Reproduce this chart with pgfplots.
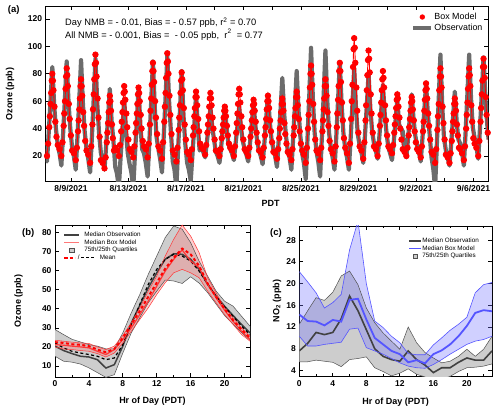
\documentclass[border=0pt]{standalone}
\usepackage{pgfplots}
\pgfplotsset{compat=1.18}
\usepackage{pgfplotstable}
\usepgfplotslibrary{fillbetween}
\usepackage{fontspec}
\setmainfont{Liberation Sans}
\definecolor{obsgray}{RGB}{108,108,108}
\definecolor{bandgray}{RGB}{205,205,205}
\definecolor{edgegray}{RGB}{80,80,80}
\definecolor{medgray}{RGB}{65,65,65}
\definecolor{mred}{RGB}{255,55,55}
\definecolor{bandred}{RGB}{255,120,120}
\definecolor{mblue}{RGB}{85,85,255}
\definecolor{bandblue}{RGB}{120,120,255}

\pgfplotstableread{
h omed omean olo ohi mmed mmean mlo mhi
0 20.4 22.1 15.1 29.1 21.2 22.5 20.0 23.5
1 18.1 19.5 12.5 26.5 20.9 22.1 18.9 23.0
2 16.5 17.7 12.0 24.0 20.4 21.4 18.6 22.5
3 15.1 16.8 11.0 22.6 20.0 21.1 18.1 22.1
4 14.7 16.0 9.0 21.2 19.5 20.4 17.7 21.8
5 13.3 15.1 6.5 20.4 17.7 18.6 16.5 20.0
6 8.9 13.3 4.0 19.0 16.0 17.2 14.7 18.6
7 10.7 14.2 5.4 19.0 18.6 18.9 16.8 20.4
8 20.4 21.2 16.8 27.4 23.9 24.7 22.1 26.0
9 32.6 31.8 27.4 37.9 30.0 31.8 28.2 32.6
10 41.8 42.3 35.3 47.5 37.0 38.8 34.4 40.5
11 51.0 52.8 43.2 58.1 44.0 46.3 40.5 49.3
12 58.9 60.7 49.3 67.7 51.9 53.7 47.5 57.2
13 66.0 66.0 55.1 77.4 59.8 61.1 53.7 67.7
14 68.9 68.6 54.6 83.5 66.0 66.8 58.9 76.5
15 68.6 67.7 53.3 81.8 70.9 71.6 60.7 84.0
16 66.0 65.1 56.8 74.7 65.1 68.6 58.9 78.2
17 60.7 59.8 53.5 65.0 61.6 62.5 56.3 69.5
18 52.8 53.0 48.5 57.2 52.8 53.3 49.3 56.3
19 46.7 46.5 42.5 49.3 45.8 46.3 43.2 48.4
20 41.4 41.0 36.5 44.0 39.3 40.0 37.0 40.5
21 36.5 36.0 32.0 41.4 33.5 34.0 31.8 35.3
22 31.8 31.0 27.5 36.1 28.2 29.1 26.5 30.0
23 27.4 26.5 23.5 30.9 23.9 24.7 23.0 25.6
}\tabB

\pgfplotstableread{
h omed olo ohi mmed mlo mhi
0 7.6 5.6 12.5 14.3 10.3 22.2
1 9.0 5.6 15.0 13.1 8.5 20.3
2 11.0 5.9 17.4 13.0 8.5 18.3
3 10.6 5.7 16.9 12.3 8.8 15.5
4 11.0 5.5 18.4 13.3 9.0 16.5
5 13.5 4.7 21.4 13.0 9.2 18.0
6 17.7 6.0 22.3 17.0 11.6 26.2
7 15.0 6.2 19.8 17.2 11.8 31.5
8 11.5 6.5 15.5 13.4 8.2 20.0
9 8.0 4.5 12.8 10.0 7.6 13.1
10 6.6 3.8 10.9 8.8 7.0 11.9
11 6.0 3.0 9.4 7.6 6.2 10.3
12 5.7 3.5 7.9 7.0 5.4 9.1
13 7.6 4.3 12.0 5.5 4.8 7.1
14 6.0 3.3 9.1 5.9 4.5 6.9
15 5.0 2.8 7.3 5.3 4.4 6.9
16 3.6 2.2 6.3 7.0 5.1 8.7
17 4.5 2.4 5.4 7.7 6.0 10.0
18 4.5 2.9 5.7 8.8 7.0 11.4
19 5.5 3.8 6.6 10.3 7.9 12.5
20 6.3 4.5 7.9 12.2 8.8 13.8
21 5.9 4.6 6.6 14.6 9.4 18.3
22 5.9 4.8 7.9 15.1 9.7 19.8
23 7.6 5.2 10.3 14.9 10.3 20.2
}\tabC

\begin{document}
\begin{tikzpicture}
\pgfplotsset{
  every axis/.append style={
    scale only axis,
    axis line style={line width=0.8pt},
    tick style={line width=0.7pt, black},
    tick label style={font=\fontsize{8.5}{10}\selectfont\bfseries},
    /pgf/number format/assume math mode=true,
    major tick length=4pt, minor tick length=2.5pt,
    clip=true,
  }
}
% ---------------- Panel (a)
\begin{axis}[at={(45.7pt,230.3pt)}, anchor=south west, width=442.3pt, height=175.7pt,
  xmin=-1.76, xmax=29.01, ymin=1.24, ymax=129.5,
  xtick={0,4,...,28}, minor xtick={-2,2,6,...,26}, minor tick length=4pt,
  xticklabels={8/9/2021,8/13/2021,8/17/2021,8/21/2021,8/25/2021,8/29/2021,9/2/2021,9/6/2021},
  ytick={20,40,...,120},
  legend style={at={(rel axis cs:0.826,0.968)}, anchor=north west, draw=none, fill=none,
    font=\fontsize{8.9}{10}\selectfont, inner sep=0pt, row sep=0.4pt,
    nodes={inner sep=1pt, text height=6.5pt, text depth=1.9pt}},
  legend cell align=left]
\addplot[obsgray, line width=4.2pt, line join=round, forget plot] coordinates {
(-1.92,30) (-1.8,24) (-1.67,16) (-1.55,37) (-1.42,61) (-1.3,85) (-1.17,57) (-1.05,40)
(-0.92,28) (-0.8,22) (-0.67,13) (-0.55,36) (-0.42,62) (-0.3,89) (-0.17,59) (-0.05,40)
(0.08,26) (0.2,20) (0.33,10) (0.45,34) (0.58,62) (0.7,90) (0.83,58) (0.95,38)
(1.08,25) (1.2,18) (1.33,8) (1.45,33) (1.58,62) (1.7,91) (1.83,58) (1.95,37)
(2.08,22) (2.2,17) (2.33,10) (2.45,28) (2.58,48) (2.7,69) (2.83,45) (2.95,31)
(3.08,12) (3.2,7) (3.33,-3) (3.45,19) (3.58,40) (3.7,62) (3.83,37) (3.95,22)
(4.08,14) (4.2,8) (4.33,-3) (4.45,21) (4.58,46) (4.7,70) (4.83,42) (4.95,25)
(5.08,22) (5.2,15) (5.33,5) (5.45,30) (5.58,60) (5.7,89) (5.83,55) (5.95,34)
(6.08,25) (6.2,18) (6.33,8) (6.45,34) (6.58,63) (6.7,93) (6.83,59) (6.95,38)
(7.08,16) (7.2,10) (7.33,-3) (7.45,25) (7.58,53) (7.7,82) (7.83,49) (7.95,29)
(8.08,15) (8.2,10) (8.33,2) (8.45,21) (8.58,43) (8.7,65) (8.83,40) (8.95,24)
(9.08,26) (9.2,23) (9.33,19) (9.45,30) (9.58,42) (9.7,55) (9.83,41) (9.95,32)
(10.08,23) (10.2,20) (10.33,15) (10.45,27) (10.58,42) (10.7,56) (10.83,40) (10.95,29)
(11.08,25) (11.2,22) (11.33,17) (11.45,29) (11.58,42) (11.7,56) (11.83,40) (11.95,31)
(12.08,25) (12.2,21) (12.33,16) (12.45,29) (12.58,44) (12.7,59) (12.83,42) (12.95,31)
(13.08,24) (13.2,20) (13.33,14) (13.45,29) (13.58,47) (13.7,65) (13.83,45) (13.95,32)
(14.08,25) (14.2,20) (14.33,12) (14.45,32) (14.58,54) (14.7,77) (14.83,51) (14.95,35)
(15.08,24) (15.2,19) (15.33,10) (15.45,32) (15.58,57) (15.7,82) (15.83,53) (15.95,35)
(16.08,22) (16.2,15) (16.33,3) (16.45,32) (16.58,65) (16.7,99) (16.83,61) (16.95,37)
(17.08,23) (17.2,16) (17.33,5) (17.45,33) (17.58,65) (17.7,97) (17.83,60) (17.95,37)
(18.08,26) (18.2,19) (18.33,10) (18.45,33) (18.58,61) (18.7,88) (18.83,57) (18.95,37)
(19.08,25) (19.2,19) (19.33,10) (19.45,32) (19.58,58) (19.7,84) (19.83,54) (19.95,36)
(20.08,28) (20.2,23) (20.33,15) (20.45,35) (20.58,57) (20.7,80) (20.83,54) (20.95,38)
(21.08,29) (21.2,24) (21.33,18) (21.45,34) (21.58,53) (21.7,72) (21.83,50) (21.95,37)
(22.08,26) (22.2,22) (22.33,17) (22.45,30) (22.58,46) (22.7,61) (22.83,43) (22.95,40)
(23.08,38) (23.2,25) (23.33,19) (23.45,33) (23.58,49) (23.7,65) (23.83,47) (23.95,35)
(24.08,27) (24.2,23) (24.33,16) (24.45,33) (24.58,53) (24.7,73) (24.83,50) (24.95,36)
(25.08,19) (25.2,11) (25.33,-3) (25.45,28) (25.58,61) (25.7,94) (25.83,56) (25.95,33)
(26.08,24) (26.2,19) (26.33,13) (26.45,29) (26.58,48) (26.7,67) (26.83,45) (26.95,32)
(27.08,29) (27.2,23) (27.33,13) (27.45,37) (27.58,66) (27.7,94) (27.83,62) (27.95,41)
(28.08,33) (28.2,27) (28.33,18) (28.45,40) (28.58,66) (28.7,92) (28.83,62) (28.95,44)
(29.05,32)};
\addplot[red, line width=0.9pt, mark=*, mark size=2.7pt, mark options={fill=red, draw=red}, forget plot] coordinates {
(-1.92,27) (-1.8,25) (-1.67,20) (-1.59,29) (-1.51,41) (-1.47,49) (-1.42,58) (-1.38,66) (-1.34,75) (-1.3,80) (-1.26,75) (-1.22,68) (-1.15,56) (-1.09,45) (-1.01,34)
(-0.92,28) (-0.8,25) (-0.67,20) (-0.59,30) (-0.51,42) (-0.47,51) (-0.42,60) (-0.38,69) (-0.34,78) (-0.3,84) (-0.26,79) (-0.22,71) (-0.15,58) (-0.09,47) (-0.01,35)
(0.08,24) (0.2,22) (0.33,17) (0.41,26) (0.49,38) (0.53,46) (0.58,54) (0.62,62) (0.66,71) (0.7,76) (0.74,71) (0.78,64) (0.85,52) (0.91,42) (0.99,31)
(1.08,24) (1.2,21) (1.33,15) (1.41,27) (1.49,43) (1.53,54) (1.58,65) (1.62,76) (1.66,87) (1.7,94) (1.74,88) (1.78,78) (1.85,62) (1.91,48) (1.99,34)
(2.08,17) (2.2,15) (2.33,11) (2.41,19) (2.49,30) (2.53,37) (2.58,44) (2.62,52) (2.66,59) (2.7,64) (2.74,60) (2.78,53) (2.85,43) (2.91,33) (2.99,24)
(3.08,26) (3.2,24) (3.33,20) (3.41,28) (3.49,38) (3.53,45) (3.58,52) (3.62,59) (3.66,66) (3.7,71) (3.74,67) (3.78,61) (3.85,51) (3.91,41) (3.99,32)
(4.08,25) (4.2,23) (4.33,19) (4.41,27) (4.49,37) (4.53,44) (4.58,51) (4.62,58) (4.66,65) (4.7,70) (4.74,66) (4.78,60) (4.85,50) (4.91,40) (4.99,31)
(5.08,27) (5.2,25) (5.33,19) (5.41,29) (5.49,43) (5.53,53) (5.58,62) (5.62,72) (5.66,82) (5.7,88) (5.74,82) (5.78,74) (5.85,60) (5.91,48) (5.99,36)
(6.08,27) (6.2,24) (6.33,18) (6.41,30) (6.49,45) (6.53,56) (6.58,66) (6.62,77) (6.66,88) (6.7,95) (6.74,89) (6.78,80) (6.85,64) (6.91,50) (6.99,36)
(7.08,24) (7.2,21) (7.33,16) (7.41,26) (7.49,39) (7.53,48) (7.58,57) (7.62,66) (7.66,75) (7.7,81) (7.74,76) (7.78,68) (7.85,55) (7.91,43) (7.99,32)
(8.08,23) (8.2,21) (8.33,17) (8.41,25) (8.49,35) (8.53,41) (8.58,49) (8.62,55) (8.66,63) (8.7,67) (8.74,63) (8.78,57) (8.85,47) (8.91,38) (8.99,29)
(9.08,26) (9.2,25) (9.33,21) (9.41,28) (9.49,37) (9.53,43) (9.58,49) (9.62,56) (9.66,62) (9.7,66) (9.74,62) (9.78,57) (9.85,48) (9.91,40) (9.99,32)
(10.08,24) (10.2,23) (10.33,20) (10.41,25) (10.49,33) (10.53,38) (10.58,43) (10.62,48) (10.66,53) (10.7,56) (10.74,53) (10.78,49) (10.85,42) (10.91,35) (10.99,29)
(11.08,26) (11.2,24) (11.33,20) (11.41,27) (11.49,37) (11.53,44) (11.58,51) (11.62,58) (11.66,65) (11.7,69) (11.74,65) (11.78,59) (11.85,49) (11.91,41) (11.99,32)
(12.08,25) (12.2,23) (12.33,20) (12.41,26) (12.49,34) (12.53,40) (12.58,46) (12.62,52) (12.66,57) (12.7,61) (12.74,58) (12.78,53) (12.85,45) (12.91,37) (12.99,30)
(13.08,24) (13.2,23) (13.33,19) (13.41,26) (13.49,35) (13.53,41) (13.58,47) (13.62,54) (13.66,60) (13.7,64) (13.74,60) (13.78,55) (13.85,46) (13.91,38) (13.99,30)
(14.08,23) (14.2,22) (14.33,18) (14.41,25) (14.49,33) (14.53,40) (14.58,46) (14.62,52) (14.66,58) (14.7,62) (14.74,58) (14.78,53) (14.85,44) (14.91,36) (14.99,29)
(15.08,23) (15.2,21) (15.33,17) (15.41,25) (15.49,35) (15.53,41) (15.58,49) (15.62,55) (15.66,63) (15.7,67) (15.74,63) (15.78,57) (15.85,47) (15.91,38) (15.99,29)
(16.08,24) (16.2,21) (16.33,15) (16.41,26) (16.49,40) (16.53,50) (16.58,60) (16.62,70) (16.66,80) (16.7,86) (16.74,80) (16.78,72) (16.85,58) (16.91,45) (16.99,32)
(17.08,24) (17.2,22) (17.33,17) (17.41,26) (17.49,38) (17.53,46) (17.58,54) (17.62,62) (17.66,71) (17.7,76) (17.74,71) (17.78,64) (17.85,52) (17.91,42) (17.99,31)
(18.08,25) (18.2,22) (18.33,16) (18.41,27) (18.49,41) (18.53,51) (18.58,61) (18.62,71) (18.66,82) (18.7,88) (18.74,82) (18.78,74) (18.85,59) (18.91,46) (18.99,33)
(19.08,26) (19.2,22) (19.33,15) (19.41,29) (19.49,47) (19.53,60) (19.58,72) (19.62,85) (19.66,98) (19.7,106) (19.74,99) (19.78,88) (19.85,70) (19.91,53) (19.99,37)
(20.08,27) (20.2,24) (20.33,18) (20.41,30) (20.49,46) (20.53,57) (20.58,68) (20.62,79) (20.66,90) (20.7,97) (20.74,91) (20.78,81) (20.85,65) (20.91,51) (20.99,37)
(21.08,27) (21.2,25) (21.33,20) (21.41,29) (21.49,42) (21.53,50) (21.58,59) (21.62,68) (21.66,76) (21.7,82) (21.74,77) (21.78,70) (21.85,57) (21.91,46) (21.99,35)
(22.08,27) (22.2,25) (22.33,22) (22.41,28) (22.49,37) (22.53,43) (22.58,49) (22.62,55) (22.66,61) (22.7,65) (22.74,62) (22.78,56) (22.85,48) (22.91,40) (22.99,32)
(23.08,25) (23.2,23) (23.33,20) (23.41,26) (23.49,35) (23.53,41) (23.58,47) (23.62,53) (23.66,59) (23.7,63) (23.74,60) (23.78,54) (23.85,46) (23.91,38) (23.99,30)
(24.08,25) (24.2,23) (24.33,19) (24.41,27) (24.49,38) (24.53,45) (24.58,53) (24.62,61) (24.66,68) (24.7,73) (24.74,69) (24.78,62) (24.85,51) (24.91,42) (24.99,32)
(25.08,23) (25.2,21) (25.33,15) (25.41,25) (25.49,39) (25.53,49) (25.58,58) (25.62,68) (25.66,78) (25.7,84) (25.74,78) (25.78,70) (25.85,56) (25.91,44) (25.99,32)
(26.08,21) (26.2,19) (26.33,15) (26.41,22) (26.49,31) (26.53,38) (26.58,45) (26.62,51) (26.66,58) (26.7,62) (26.74,58) (26.78,53) (26.85,43) (26.91,35) (26.99,26)
(27.08,25) (27.2,22) (27.33,17) (27.41,27) (27.49,40) (27.53,50) (27.58,59) (27.62,69) (27.66,78) (27.7,84) (27.74,79) (27.78,71) (27.85,57) (27.91,45) (27.99,33)
(28.08,29) (28.2,26) (28.33,20) (28.41,31) (28.49,45) (28.53,55) (28.58,65) (28.62,75) (28.66,85) (28.7,91) (28.74,85) (28.78,77) (28.85,63) (28.91,50) (28.99,37)
(29.05,28)};
\addlegendimage{legend image code/.code={\path[draw=none, fill=none] (0pt,0pt) -- (18pt,0pt); \fill[red, draw=none] (9pt,0pt) circle (2.7pt);}}
\addlegendentry{Box Model}
\addlegendimage{legend image code/.code={\draw[line width=4.2pt, obsgray] (0pt,0pt) -- (18pt,0pt);}}
\addlegendentry{Observation}
\end{axis}

% ---------------- Panel (b)
\begin{axis}[at={(55pt,35pt)}, anchor=south west, width=195pt, height=152pt,
  xmin=0, xmax=23, ymin=4.2, ymax=84,
  xtick={0,4,...,20}, minor xtick={2,6,...,22}, ytick={10,20,...,80},
  legend style={at={(rel axis cs:0.041,0.958)}, anchor=north west, draw=none, fill=none,
    font=\fontsize{6.3}{7}\selectfont, inner sep=0pt, row sep=0.7pt,
    nodes={inner sep=0.5pt, text height=4.6pt, text depth=1.3pt},
    /tikz/every odd column/.append style={column sep=4pt}},
  legend cell align=left]
\addplot[name path=bohi, draw=none, forget plot] table[x=h,y=ohi]{\tabB};
\addplot[name path=bolo, draw=none, forget plot] table[x=h,y=olo]{\tabB};
\addplot[fill=bandgray, draw=none, forget plot] fill between[of=bohi and bolo];
\addplot[edgegray, line width=0.5pt, forget plot] table[x=h,y=ohi]{\tabB};
\addplot[edgegray, line width=0.5pt, forget plot] table[x=h,y=olo]{\tabB};
\addplot[medgray, line width=1.5pt, forget plot] table[x=h,y=omed]{\tabB};
\addplot[black, line width=1.2pt, dash pattern=on 3pt off 2.5pt, forget plot] table[x=h,y=omean]{\tabB};
\addplot[name path=bmhi, draw=none, forget plot] table[x=h,y=mhi]{\tabB};
\addplot[name path=bmlo, draw=none, forget plot] table[x=h,y=mlo]{\tabB};
\addplot[fill=bandred, fill opacity=0.35, draw=none, forget plot] fill between[of=bmhi and bmlo];
\addplot[mred, line width=0.5pt, forget plot] table[x=h,y=mhi]{\tabB};
\addplot[mred, line width=0.5pt, forget plot] table[x=h,y=mlo]{\tabB};
\addplot[mred, line width=1.2pt, forget plot] table[x=h,y=mmed]{\tabB};
\addplot[red, line width=2pt, dash pattern=on 3pt off 2.5pt, forget plot] table[x=h,y=mmean]{\tabB};
\addlegendimage{legend image code/.code={\draw[medgray, line width=1.5pt] (0pt,0pt) -- (15pt,0pt);}}
\addlegendentry{Median Observation}
\addlegendimage{legend image code/.code={\draw[bandred, line width=1.5pt] (0pt,0pt) -- (15pt,0pt);}}
\addlegendentry{Median Box Model}
\addlegendimage{legend image code/.code={\path[draw=none, fill=none] (0pt,0pt) -- (15pt,0pt); \draw[fill=bandgray, draw=edgegray, line width=0.5pt] (5.5pt,-2.2pt) rectangle (10pt,2.2pt);}}
\addlegendentry{75th/25th Quartiles}
\addlegendimage{legend image code/.code={\path[draw=none, fill=none] (0pt,0pt) -- (15pt,0pt); \draw[red, line width=1.8pt, dash pattern=on 3.5pt off 2pt] (0pt,0pt) -- (11pt,0pt); \node[overlay, inner sep=0pt, font=\fontsize{6.3}{7}\selectfont] at (13.7pt,0pt) {/}; \draw[overlay, black, line width=1.1pt, dash pattern=on 3pt off 2pt] (17pt,0pt) -- (30pt,0pt);}}
\addlegendentry{\hspace{15.5pt}Mean}
\end{axis}

% ---------------- Panel (c)
\begin{axis}[at={(299.3pt,35.3pt)}, anchor=south west, width=192.7pt, height=150.7pt,
  xmin=0, xmax=23, ymin=2.85, ymax=30.6,
  xtick={0,4,...,20}, minor xtick={2,6,...,22}, ytick={4,8,...,28},
  legend style={at={(rel axis cs:0.564,0.925)}, anchor=north west, draw=none, fill=none,
    font=\fontsize{6.3}{7}\selectfont, inner sep=0pt, row sep=0.7pt,
    nodes={inner sep=0.5pt, text height=4.6pt, text depth=1.3pt}},
  legend cell align=left]
\addplot[name path=cohi, draw=none, forget plot] table[x=h,y=ohi]{\tabC};
\addplot[name path=colo, draw=none, forget plot] table[x=h,y=olo]{\tabC};
\addplot[fill=bandgray, draw=none, forget plot] fill between[of=cohi and colo];
\addplot[edgegray, line width=0.5pt, forget plot] table[x=h,y=ohi]{\tabC};
\addplot[edgegray, line width=0.5pt, forget plot] table[x=h,y=olo]{\tabC};
\addplot[medgray, line width=1.6pt, forget plot] table[x=h,y=omed]{\tabC};
\addplot[name path=cmhi, draw=none, forget plot] table[x=h,y=mhi]{\tabC};
\addplot[name path=cmlo, draw=none, forget plot] table[x=h,y=mlo]{\tabC};
\addplot[fill=bandblue, fill opacity=0.35, draw=none, forget plot] fill between[of=cmhi and cmlo];
\addplot[mblue, line width=0.6pt, forget plot] table[x=h,y=mhi]{\tabC};
\addplot[mblue, line width=0.6pt, forget plot] table[x=h,y=mlo]{\tabC};
\addplot[mblue, line width=1.8pt, forget plot] table[x=h,y=mmed]{\tabC};
\addlegendimage{legend image code/.code={\draw[medgray, line width=1.6pt] (0pt,0pt) -- (12pt,0pt);}}
\addlegendentry{Median Observation}
\addlegendimage{legend image code/.code={\draw[mblue, line width=1.8pt] (0pt,0pt) -- (12pt,0pt);}}
\addlegendentry{Median Box Model}
\addlegendimage{legend image code/.code={\path[draw=none, fill=none] (0pt,0pt) -- (12pt,0pt); \draw[fill=bandgray, draw=edgegray, line width=0.5pt] (4pt,-2.2pt) rectangle (8.5pt,2.2pt);}}
\addlegendentry{75th/25th Quartiles}
\end{axis}

% ---------------- labels and annotations
\node[font=\fontsize{9.5}{10}\selectfont\bfseries] at (13.8pt,402pt) {(a)};
\node[font=\fontsize{9.5}{10}\selectfont\bfseries] at (28.3pt,179.3pt) {(b)};
\node[font=\fontsize{9.5}{10}\selectfont\bfseries] at (276pt,178.7pt) {(c)};
\node[rotate=90, font=\fontsize{9}{10}\selectfont\bfseries] at (10pt,318pt) {Ozone (ppb)};
\node[font=\fontsize{9}{10}\selectfont\bfseries] at (270.5pt,208.7pt) {PDT};
\node[rotate=90, font=\fontsize{9}{10}\selectfont\bfseries] at (18.5pt,111pt) {Ozone (ppb)};
\node[font=\fontsize{9}{10}\selectfont\bfseries] at (152.5pt,11.3pt) {Hr of Day (PDT)};
\node[rotate=90, font=\fontsize{9}{10}\selectfont\bfseries] at (277pt,111pt) {NO\textsubscript{2} (ppb)};
\node[font=\fontsize{9}{10}\selectfont\bfseries] at (395.6pt,10.3pt) {Hr of Day (PDT)};
\node[anchor=west, inner sep=0pt, font=\fontsize{9.3}{10}\selectfont] at (65pt,389.3pt) {Day NMB = - 0.01, Bias = - 0.57 ppb, r\textsuperscript{2} = 0.70};
\node[anchor=west, inner sep=0pt, font=\fontsize{9.3}{10}\selectfont] at (65pt,377pt) {All NMB = - 0.001, Bias = \ - 0.05 ppb, \ r\raisebox{1.5pt}{\textsuperscript{2}} \ = 0.77};

\pgfresetboundingbox
\path[use as bounding box] (0pt,0pt) rectangle (500pt,412pt);
\end{tikzpicture}
\end{document}
